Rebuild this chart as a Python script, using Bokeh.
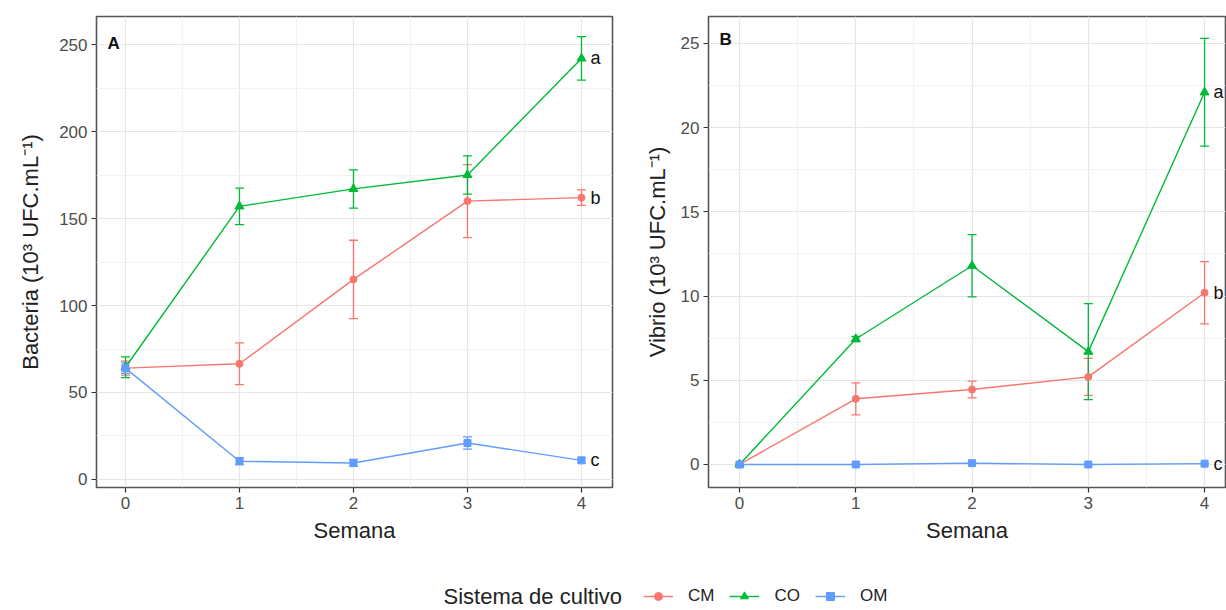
from bokeh.plotting import figure
from bokeh.layouts import column, row
from bokeh.models import (ColumnDataSource, Range1d, FixedTicker, SingleIntervalTicker,
                          Whisker, TeeHead, Label, Legend, LegendItem)
from bokeh.embed import file_html
from bokeh.resources import INLINE
from bokeh.core.properties import value

# ---------------- data ----------------
weeks = [0, 1, 2, 3, 4]
minor_weeks = [0.5, 1.5, 2.5, 3.5]
systems = ["CM", "CO", "OM"]
colors = {"CM": "#F8766D", "CO": "#00BA38", "OM": "#619CFF"}
markers = {"CM": "circle", "CO": "triangle", "OM": "square"}
marker_sizes = {"CM": 7, "CO": 9, "OM": 7}

# Panel A : Bacteria (10^3 UFC/mL)
bact_CM = [64, 66.5, 115, 160, 162]
bact_CM_se = [4, 12, 22.5, 21, 4.5]
bact_CO = [64.5, 157, 167, 175, 242]
bact_CO_se = [6, 10.5, 11, 11, 12.5]
bact_OM = [64, 10.5, 9.5, 21, 11]
bact_OM_se = [3, 2, 2, 3.5, 1.5]
bact_letters = {"CM": "b", "CO": "a", "OM": "c"}

# Panel B : Vibrio (10^3 UFC/mL)
vib_CM = [0, 3.9, 4.45, 5.2, 10.2]
vib_CM_se = [0, 0.95, 0.5, 1.1, 1.85]
vib_CO = [0, 7.45, 11.8, 6.7, 22.1]
vib_CO_se = [0, 0.15, 1.85, 2.85, 3.2]
vib_OM = [0, 0, 0.08, 0, 0.05]
vib_OM_se = [0, 0, 0, 0, 0]
vib_letters = {"CM": "b", "CO": "a", "OM": "c"}

FONT = "Liberation Sans"


def make_panel(letter, ylabel, means, ses, letters, xr, yr, yint,
               width, border_left, border_right, ylab_standoff, letter_dy):
    p = figure(width=width, height=550, x_range=Range1d(*xr), y_range=Range1d(*yr),
               toolbar_location=None, output_backend="svg",
               min_border_left=border_left, min_border_right=border_right,
               min_border_top=16, min_border_bottom=63)
    p.background_fill_color = "white"
    p.border_fill_color = "white"
    p.outline_line_color = "#555555"
    p.outline_line_width = 1.6

    p.xaxis.ticker = FixedTicker(ticks=weeks, minor_ticks=minor_weeks)
    p.yaxis.ticker = SingleIntervalTicker(interval=yint, num_minor_ticks=2)

    for ax in (p.xaxis, p.yaxis):
        ax.axis_line_color = None
        ax.major_tick_line_color = "#333333"
        ax.major_tick_line_width = 1.2
        ax.major_tick_out = 5
        ax.major_tick_in = 0
        ax.minor_tick_out = 0
        ax.minor_tick_in = 0
        ax.major_label_text_font = FONT
        ax.major_label_text_font_size = "17px"
        ax.major_label_text_color = "#4D4D4D"
        ax.axis_label_text_font = FONT
        ax.axis_label_text_font_size = "22px"
        ax.axis_label_text_font_style = "normal"
        ax.axis_label_text_color = "#222222"
        ax.major_label_standoff = 4
        ax.axis_label_standoff = 6
    p.yaxis.axis_label_standoff = ylab_standoff
    p.xaxis.axis_label = "Semana"
    p.yaxis.axis_label = ylabel

    for g in (p.xgrid, p.ygrid):
        g.grid_line_color = "#E6E6E6"
        g.grid_line_width = 1.2
        g.minor_grid_line_color = "#F1F1F1"
        g.minor_grid_line_width = 0.9

    for s in systems:
        c = colors[s]
        m = means[s]
        e = ses[s]
        src = ColumnDataSource(dict(x=weeks, y=m,
                                    lo=[a - b for a, b in zip(m, e)],
                                    hi=[a + b for a, b in zip(m, e)]))
        p.line("x", "y", source=src, line_color=c, line_width=1.4)
        p.add_layout(Whisker(base="x", lower="lo", upper="hi", source=src,
                             line_color=c, line_width=1.3,
                             upper_head=TeeHead(size=9, line_color=c, line_width=1.3),
                             lower_head=TeeHead(size=9, line_color=c, line_width=1.3)))
        p.scatter("x", "y", source=src, marker=markers[s], size=marker_sizes[s],
                  fill_color=c, line_color=c)
        lsrc = ColumnDataSource(dict(x=[weeks[-1]], y=[m[-1]], t=[letters[s]]))
        p.text("x", "y", text="t", source=lsrc, x_offset=9,
               text_baseline="middle", text_align="left",
               text_font=value(FONT), text_font_size="18px", text_color="#111111")

    p.add_layout(Label(x=xr[0], y=yr[1], x_offset=11, y_offset=letter_dy, text=letter,
                       text_font=FONT, text_font_size="17px", text_font_style="bold",
                       text_color="#111111", text_baseline="middle"))
    return p


pA = make_panel("A", "Bacteria (10³ UFC.mL⁻¹)",
                {"CM": bact_CM, "CO": bact_CO, "OM": bact_OM},
                {"CM": bact_CM_se, "CO": bact_CO_se, "OM": bact_OM_se},
                bact_letters, (-0.254, 4.272), (-4.6, 266.1), 50,
                620, 96, 8, 13, -27)
pB = make_panel("B", "Vibrio (10³ UFC.mL⁻¹)",
                {"CM": vib_CM, "CO": vib_CO, "OM": vib_OM},
                {"CM": vib_CM_se, "CO": vib_CO_se, "OM": vib_OM_se},
                vib_letters, (-0.267, 4.18), (-1.366, 26.6), 5,
                606, 88, 1, 8, -23)

# ---------------- legend ----------------
leg = figure(width=1226, height=60, x_range=Range1d(0, 1226), y_range=Range1d(0, 60),
             toolbar_location=None, output_backend="svg", min_border=0,
             x_axis_type=None, y_axis_type=None)
leg.outline_line_color = None
leg.xgrid.visible = False
leg.ygrid.visible = False
nan = float("nan")
items = []
for s in systems:
    rl = leg.line(x=[nan, nan], y=[nan, nan], line_color=colors[s], line_width=1.4)
    rp = leg.scatter(x=[nan], y=[nan], marker=markers[s], size=marker_sizes[s] - 2,
                     fill_color=colors[s], line_color=colors[s])
    items.append(LegendItem(label=s, renderers=[rl, rp]))
legend = Legend(items=items, orientation="horizontal", location=(643, 4),
                glyph_width=30, glyph_height=20, label_standoff=15, spacing=15,
                padding=0, margin=0, border_line_color=None, background_fill_alpha=0,
                label_text_font=FONT, label_text_font_size="17px",
                label_text_color="#222222")
leg.add_layout(legend, "center")
leg.add_layout(Label(x=443, y=14, text="Sistema de cultivo", text_font=FONT,
                     text_font_size="22px", text_color="#222222",
                     text_baseline="middle"))

layout = column(row(pA, pB), leg)
open("out.html", "w").write(file_html(layout, INLINE))
